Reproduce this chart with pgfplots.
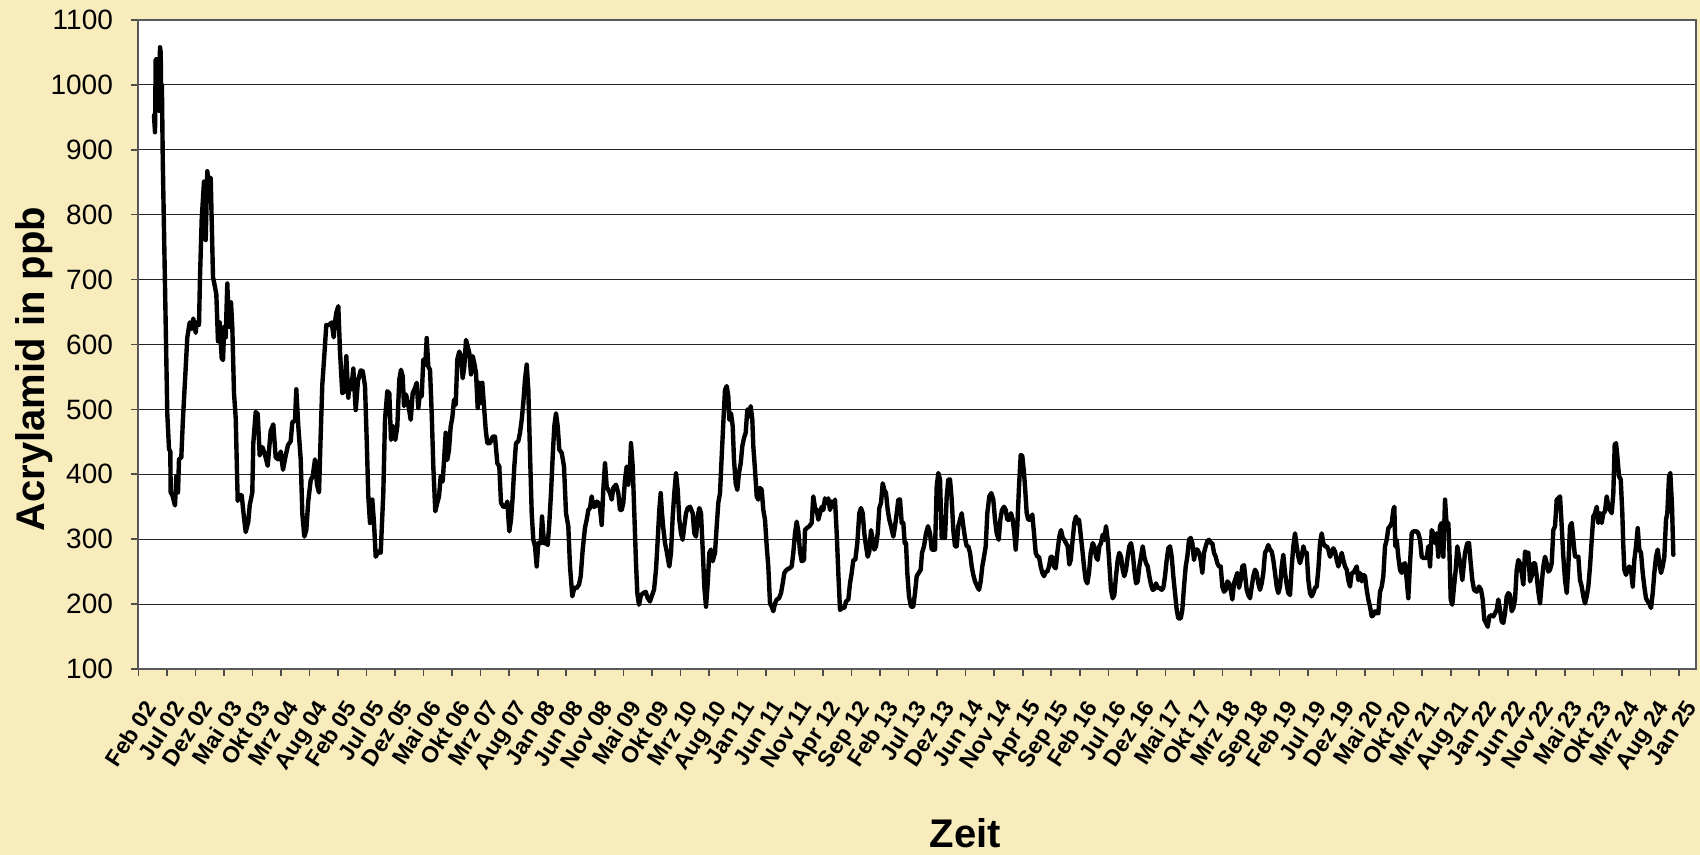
\documentclass[border=0pt]{standalone}
\usepackage{fontspec}
\setmainfont{Liberation Sans}
\usepackage{pgfplots}
\usepackage{pgfplotstable}
\pgfplotsset{compat=1.18}
\definecolor{bgcream}{RGB}{248,236,189}
\pgfplotstableread{
u ppb
15.7 953
16.7 927
17.4 1039
18.5 1040
19.3 965
20.2 1040
20.8 960
21.7 1058
22.4 1050
23.0 970
23.6 1000
24.5 880
26.7 691
29.0 493
30.7 439
32.0 435
32.4 372
34.0 368
36.7 352
38.0 397
39.7 372
40.7 423
43.0 426
44.7 487
46.7 544
49.0 611
51.4 634
53.4 624
55.0 640
57.4 618
58.4 634
60.7 630
61.7 704
63.4 793
65.7 851
67.4 761
69.0 867
70.7 844
72.4 857
74.7 704
78.0 678
79.7 605
81.4 634
83.4 579
84.7 576
86.0 627
87.4 611
89.0 694
90.0 653
91.4 627
92.7 665
94.0 627
95.7 525
97.4 487
99.4 359
100.7 368
103.4 368
105.0 343
107.4 311
110.0 327
111.4 352
114.0 372
115.0 448
117.4 496
119.4 493
121.4 429
124.0 442
126.4 432
129.4 413
132.4 467
135.0 477
137.4 426
140.0 423
142.4 435
144.7 407
147.4 429
149.7 445
152.4 451
154.0 480
156.7 483
158.0 531
160.0 474
162.4 423
164.0 340
166.0 304
168.0 314
170.0 359
172.4 391
174.4 397
176.7 423
178.7 384
180.7 372
182.4 461
184.0 538
185.7 576
188.0 630
190.7 630
193.4 634
195.4 611
196.7 634
198.0 649
200.0 659
201.7 589
204.0 525
206.4 528
208.0 582
210.0 518
211.4 544
213.0 531
215.0 563
217.4 499
219.7 544
222.4 560
224.4 559
226.7 536
228.4 453
230.0 366
231.7 325
234.0 361
235.7 325
237.4 273
240.0 281
242.4 279
245.0 371
246.7 484
249.0 528
251.0 525
252.7 453
255.0 474
257.0 453
259.0 474
261.0 546
262.7 561
264.4 551
265.7 505
267.7 523
270.0 507
272.4 484
274.4 525
276.7 533
278.4 541
280.0 502
281.7 525
283.4 520
285.0 577
287.0 569
288.4 610
290.0 566
291.7 561
293.4 494
295.0 412
297.0 343
299.0 356
300.7 366
302.4 397
304.4 389
306.0 428
307.4 464
309.0 422
310.7 438
312.4 474
314.0 487
315.7 515
317.4 507
319.0 577
321.0 589
322.7 582
324.4 548
326.0 566
327.7 607
329.4 597
331.0 587
332.7 554
334.4 582
336.0 571
337.7 556
339.4 502
340.7 541
342.4 510
344.0 541
345.7 505
347.4 469
349.0 448
351.7 448
354.4 458
356.7 458
359.0 417
361.0 412
362.7 356
365.0 350
367.4 350
369.0 358
371.0 312
372.7 330
374.4 366
376.0 412
377.7 448
380.0 451
381.7 464
383.4 484
385.0 510
386.7 546
388.4 569
390.0 530
391.7 433
393.4 340
395.0 299
396.7 289
398.4 258
400.0 294
402.4 294
403.7 335
405.7 294
407.7 294
409.4 291
411.0 325
412.7 371
414.4 428
416.0 474
417.7 494
419.4 474
421.0 438
423.4 433
425.7 412
427.7 340
430.0 320
431.7 258
434.0 212
436.0 225
438.4 225
440.7 230
442.4 243
444.4 284
446.7 318
448.4 330
450.0 345
451.7 348
453.4 366
455.0 350
456.7 350
458.4 358
460.0 356
461.7 348
463.4 322
465.0 376
466.7 417
468.4 381
470.0 376
471.7 371
473.4 361
475.0 379
477.7 384
480.0 371
481.7 345
483.4 345
485.0 356
486.7 392
488.4 412
490.0 384
491.7 412
492.7 448
494.4 412
496.0 340
497.7 263
499.0 217
500.7 199
502.7 214
505.0 217
507.4 219
509.4 209
511.7 204
513.4 212
515.7 222
517.7 253
519.4 299
521.0 345
522.4 371
523.7 340
525.0 317
526.7 294
528.4 281
531.0 258
532.7 279
534.4 335
536.0 371
537.7 402
539.4 376
541.0 330
542.7 309
544.4 299
546.0 320
547.7 340
549.4 348
551.7 350
554.4 340
556.0 309
557.7 304
559.4 335
561.0 348
562.7 340
564.4 284
566.0 227
567.7 196
569.4 232
571.0 279
572.7 284
574.4 266
576.7 279
578.4 320
580.0 356
581.7 371
583.4 428
585.0 479
586.7 530
588.4 536
590.0 520
591.0 484
592.7 494
594.4 474
595.7 422
597.4 386
599.0 376
600.7 402
602.4 417
604.0 443
605.7 456
607.4 464
609.0 500
610.7 489
612.4 505
614.0 484
615.0 443
616.7 407
618.4 366
620.0 361
621.7 379
623.4 376
625.0 345
626.7 330
628.4 289
630.0 258
631.7 201
633.4 196
635.0 189
636.7 201
638.4 207
640.7 209
642.7 217
644.4 232
646.0 248
648.4 253
651.0 255
653.4 258
655.0 279
656.7 309
658.4 327
660.0 312
661.7 281
663.4 266
665.7 268
666.7 314
668.4 317
671.0 320
673.4 325
675.0 366
676.7 348
678.4 345
680.0 330
681.7 340
683.4 350
685.0 345
686.7 363
688.4 356
690.0 363
691.7 345
693.4 358
695.0 350
696.7 361
698.4 309
700.0 248
701.7 191
704.0 194
706.0 194
707.7 204
710.0 207
711.7 232
713.4 248
715.0 268
717.0 268
719.0 294
721.0 340
722.7 348
724.4 340
726.0 309
727.7 289
729.4 273
731.0 281
732.7 314
734.4 299
736.0 284
737.7 289
739.4 309
741.0 348
742.7 356
744.4 386
746.0 376
747.7 371
749.4 345
751.0 330
752.7 320
755.0 304
756.7 320
758.4 340
760.0 361
761.7 361
763.4 325
765.0 325
766.4 294
767.7 294
769.0 248
770.7 212
772.7 196
775.0 196
776.7 217
778.4 243
780.4 248
782.4 253
783.7 279
785.7 289
787.7 309
789.7 320
791.7 309
793.4 284
795.0 284
796.7 284
798.4 381
800.0 402
801.7 392
803.4 302
805.0 302
806.7 302
808.4 366
810.0 392
811.7 392
813.4 361
815.0 314
816.7 289
818.4 289
820.0 320
821.7 330
823.4 340
825.0 320
826.7 302
828.4 289
830.0 289
831.7 279
833.4 258
835.0 245
836.7 235
839.0 227
840.7 222
842.4 235
844.0 258
845.7 273
847.4 289
849.0 340
851.0 366
853.0 371
855.0 361
856.7 330
858.4 309
860.4 299
862.0 330
863.7 345
865.7 350
867.4 345
869.0 330
871.0 330
872.7 340
874.4 330
876.0 309
877.4 284
879.0 320
880.7 381
882.4 430
884.0 428
885.7 402
886.7 381
888.4 340
890.0 330
891.7 330
894.0 338
895.7 309
897.4 279
899.0 273
900.7 273
902.4 258
904.0 248
905.7 243
907.4 250
909.0 250
910.7 258
912.4 273
914.0 273
915.7 258
917.4 255
919.0 279
921.0 304
922.7 314
924.4 302
926.0 299
927.7 294
929.4 289
931.0 261
932.4 268
934.0 294
936.0 325
937.7 335
939.0 325
940.7 330
942.4 307
944.0 284
945.7 258
947.4 237
949.0 232
950.7 248
952.4 279
954.4 294
956.0 289
957.7 273
959.4 268
961.0 289
962.7 294
964.4 307
966.0 299
967.7 320
969.4 299
971.0 263
972.7 222
974.4 209
976.0 214
977.7 243
979.4 268
981.0 279
982.7 273
984.4 253
986.0 243
987.7 253
989.4 273
991.0 289
992.7 294
994.4 279
996.0 253
997.7 232
999.4 235
1001.0 258
1002.7 273
1004.4 289
1006.0 273
1007.7 263
1009.4 258
1011.0 243
1012.7 230
1014.4 222
1016.0 223
1017.7 232
1019.4 225
1021.0 225
1023.4 222
1025.0 225
1026.7 243
1028.4 268
1030.0 286
1031.7 289
1033.4 273
1035.0 243
1036.7 217
1038.4 191
1040.0 178
1042.4 178
1044.0 191
1045.7 227
1047.4 258
1049.0 273
1050.7 299
1052.4 302
1054.0 294
1055.7 268
1057.4 284
1059.0 284
1060.7 279
1062.4 268
1064.0 248
1065.7 279
1067.4 289
1069.0 297
1070.7 299
1072.4 294
1074.0 294
1075.7 279
1077.4 273
1079.0 263
1080.7 258
1082.4 258
1084.0 227
1085.7 219
1087.4 222
1089.0 235
1090.7 232
1092.4 222
1094.0 207
1095.7 232
1097.4 240
1099.0 248
1100.7 225
1102.4 237
1104.0 258
1105.7 260
1108.4 222
1110.0 214
1111.7 209
1113.4 227
1115.0 243
1116.7 253
1118.4 248
1120.0 232
1121.7 222
1123.4 232
1125.0 248
1126.7 279
1128.4 284
1130.0 291
1131.7 284
1133.4 281
1135.0 268
1136.7 248
1138.4 227
1140.0 217
1141.7 227
1143.4 258
1145.0 276
1146.7 248
1148.4 230
1150.0 217
1151.7 214
1153.4 258
1155.0 289
1156.7 309
1158.4 289
1160.0 273
1161.7 263
1163.4 273
1165.0 289
1166.7 279
1168.4 279
1170.0 237
1171.7 217
1173.4 212
1175.0 217
1176.7 225
1178.4 227
1180.0 253
1181.7 294
1183.4 309
1185.0 294
1186.7 289
1188.4 289
1190.0 284
1191.7 273
1193.4 279
1195.0 286
1196.7 281
1198.4 268
1200.0 258
1201.7 268
1203.4 279
1205.0 268
1206.7 258
1208.4 253
1210.0 237
1211.7 227
1213.4 248
1215.0 248
1216.7 253
1218.4 258
1220.0 237
1221.7 248
1223.4 235
1225.0 245
1226.7 243
1228.4 222
1230.0 207
1231.7 196
1233.4 181
1235.0 183
1236.7 189
1238.4 186
1240.0 186
1241.7 219
1243.4 227
1245.0 243
1246.7 289
1248.4 299
1250.0 317
1251.7 320
1253.4 325
1255.0 345
1256.0 350
1257.0 289
1258.4 299
1260.0 273
1261.7 253
1263.4 248
1265.0 261
1266.7 263
1268.4 237
1270.0 209
1271.7 263
1273.4 309
1275.0 312
1276.7 312
1278.4 312
1280.0 309
1281.7 299
1283.4 273
1285.0 271
1286.7 271
1288.4 271
1290.0 289
1291.7 258
1293.4 314
1295.0 309
1296.7 294
1298.4 309
1300.0 273
1301.7 320
1303.4 325
1305.0 273
1306.7 361
1308.4 320
1310.0 325
1311.0 289
1312.4 207
1314.0 199
1315.7 227
1317.4 253
1319.0 289
1320.7 273
1322.4 258
1324.0 237
1326.7 279
1329.0 294
1330.7 294
1332.4 263
1334.0 237
1335.7 222
1338.4 219
1340.7 227
1342.7 222
1344.4 207
1346.0 176
1347.7 171
1349.4 165
1351.0 181
1353.4 183
1355.0 181
1356.7 186
1358.4 191
1360.0 207
1361.7 191
1363.4 173
1365.0 171
1366.7 186
1368.4 212
1370.0 217
1371.7 214
1373.4 189
1375.0 194
1376.7 207
1378.4 253
1380.0 268
1381.7 263
1383.4 248
1385.0 230
1386.7 281
1388.4 279
1390.0 279
1391.7 235
1393.4 243
1395.0 263
1396.7 263
1398.4 243
1400.0 219
1401.7 201
1403.4 232
1405.0 258
1406.7 273
1408.4 263
1410.0 250
1411.7 253
1413.4 263
1415.0 314
1416.7 320
1418.4 361
1420.0 363
1421.7 366
1423.4 320
1425.0 273
1426.7 237
1428.4 217
1430.0 258
1431.7 320
1433.4 325
1435.0 299
1436.7 273
1438.4 273
1440.0 273
1441.7 237
1443.4 227
1445.0 212
1446.7 201
1448.4 212
1450.0 227
1451.7 258
1453.4 299
1455.0 335
1456.7 340
1458.4 350
1460.0 325
1461.7 340
1463.4 325
1465.0 340
1466.7 343
1468.4 366
1470.0 350
1471.7 345
1473.4 340
1475.0 371
1476.4 446
1477.7 448
1479.0 428
1480.7 397
1482.4 392
1484.0 340
1485.0 289
1486.0 253
1487.7 245
1489.4 253
1491.0 258
1492.7 253
1494.4 227
1496.0 268
1497.7 289
1499.4 317
1501.0 284
1502.7 279
1504.4 248
1506.0 227
1507.7 209
1509.4 204
1511.0 201
1512.7 194
1514.4 217
1516.0 248
1517.7 273
1519.4 284
1521.0 263
1522.7 248
1524.4 258
1526.0 273
1527.7 330
1529.0 340
1530.7 397
1532.0 402
1533.7 350
1535.0 276
}\acrylamid
\begin{document}
\begin{tikzpicture}
\path[use as bounding box, fill=bgcream] (0,0) rectangle (850pt,427.5pt);
\begin{axis}[
  at={(69.15pt,93pt)}, anchor=south west,
  scale only axis, width=778.85pt, height=324.5pt,
  xmin=0, xmax=1557.7, ymin=100, ymax=1100,
  ytick={100,200,...,1100},
  xtick={0,28.53,...,1541},
  xticklabels={Feb 02,Jul 02,Dez 02,Mai 03,Okt 03,Mrz 04,Aug 04,Feb 05,Jul 05,Dez 05,Mai 06,Okt 06,Mrz 07,Aug 07,Jan 08,Jun 08,Nov 08,Mai 09,Okt 09,Mrz 10,Aug 10,Jan 11,Jun 11,Nov 11,Apr 12,Sep 12,Feb 13,Jul 13,Dez 13,Jun 14,Nov 14,Apr 15,Sep 15,Feb 16,Jul 16,Dez 16,Mai 17,Okt 17,Mrz 18,Sep 18,Feb 19,Jul 19,Dez 19,Mai 20,Okt 20,Mrz 21,Aug 21,Jan 22,Jun 22,Nov 22,Mai 23,Okt 23,Mrz 24,Aug 24,Jan 25},
  ymajorgrids,
  major grid style={black!85, line width=0.55pt},
  axis background/.style={fill=white},
  axis line style={black!65, line width=1pt},
  tick style={black!70, line width=0.8pt},
  tick align=outside, major tick length=3.5pt,
  tick pos=left,
  /pgf/number format/assume math mode=true,
  /pgf/number format/1000 sep={},
  yticklabel style={font=\fontsize{14}{16}\selectfont, anchor=east, inner sep=0pt, xshift=-9pt},
  xticklabel style={font=\bfseries\fontsize{11.5}{13}\selectfont, xshift=2.5pt, yshift=-11pt, rotate=57, anchor=north east, inner sep=0pt},
  ylabel={Acrylamid in ppb},
  ylabel style={font=\bfseries\fontsize{20}{24}\selectfont, at={(axis description cs:-0.0668,0.462)}, anchor=center, inner sep=0pt},
  xlabel={Zeit},
  xlabel style={font=\bfseries\fontsize{20}{24}\selectfont, at={(axis description cs:0.531,-0.2758)}, anchor=base, inner sep=0pt},
]
\addplot[black, line width=2.2pt, line join=round, line cap=round, mark=none] table[x=u, y=ppb] {\acrylamid};
\end{axis}
\end{tikzpicture}
\end{document}
